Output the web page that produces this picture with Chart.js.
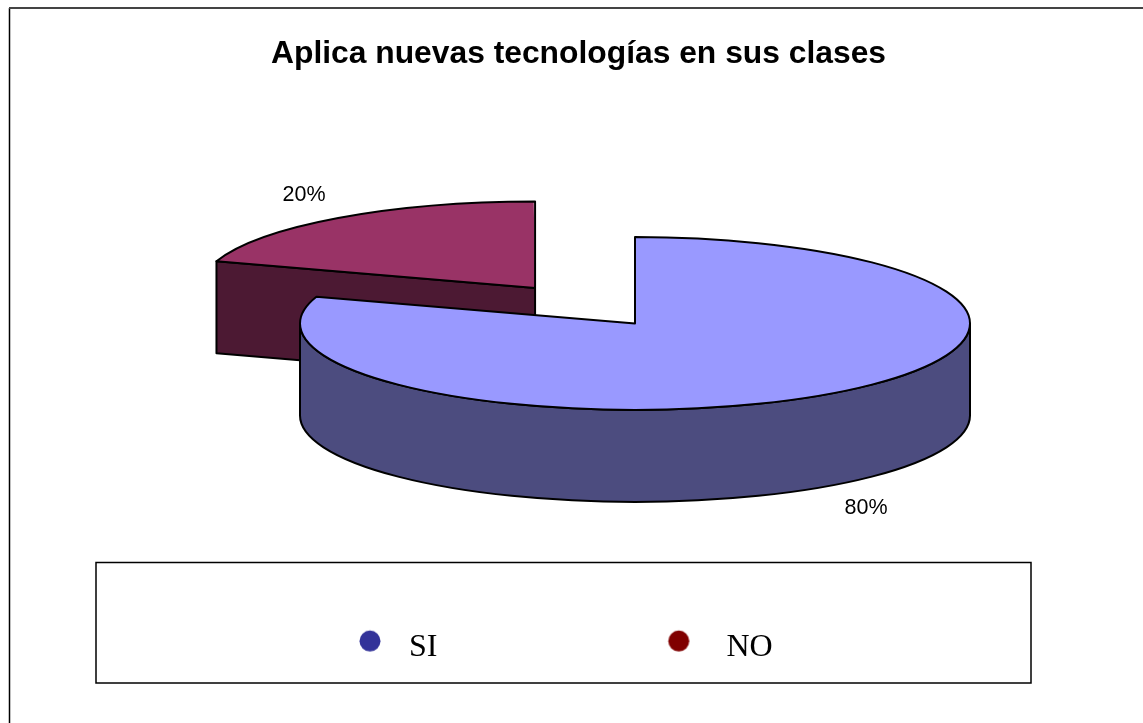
<!DOCTYPE html>
<html>
<head>
<meta charset="utf-8">
<title>Aplica nuevas tecnologías en sus clases</title>
<script src="https://cdn.jsdelivr.net/npm/chart.js@4"></script>
<style>
    html, body { margin: 0; padding: 0; background: #fff; }
    canvas { display: block; }
</style>
</head>
<body>
<canvas id="pie3d" width="1143" height="723"></canvas>
<script>
const categories = ['SI', 'NO'];
const percentages = [80, 20];
const percentLabels = ['80%', '20%'];
const topColors = ['#9999ff', '#993366'];
const sideColors = ['#4c4c7f', '#4c1933'];
const legendColors = ['#333399', '#800000'];
// circle shift inside the legend box, the original has uneven gaps
const legendDotShift = [[-7, -6.7], [-15.7, -6.7]];

const RADIUS = 335;
const SQUASH = 0.258;
const DEPTH = 92;
const CENTER_X = 635;
const CENTER_Y = 323.5;
const EXPLODE = 170;
const EDGE_WIDTH = 2;

// Arc.draw moves a slice by offset/4 and grows it a little, so work that out here
function sliceShift(arc) {
    const off = (arc.options.offset || 0) / 4;
    return { off: off, grow: off * (1 - Math.sin(Math.min(Math.PI, arc.circumference))) };
}

function sliceGeom(arc) {
    const mid = (arc.startAngle + arc.endAngle) / 2;
    const s = sliceShift(arc);
    return {
        mid: mid,
        r: arc.outerRadius + s.grow,
        x: arc.x + Math.cos(mid) * s.off,
        y: arc.y + Math.sin(mid) * s.off * SQUASH
    };
}

function dot(color, shift) {
    const c = document.createElement('canvas');
    c.width = 60;
    c.height = 60;
    const g = c.getContext('2d');
    g.fillStyle = color;
    g.beginPath();
    g.arc(30 + shift[0], 30 + shift[1], 10.5, 0, Math.PI * 2);
    g.fill();
    return c;
}

const framePlugin = {
    id: 'frame',
    beforeDraw(chart) {
        const ctx = chart.ctx;
        ctx.save();
        ctx.strokeStyle = '#000';
        ctx.lineWidth = 1.5;
        ctx.beginPath();
        ctx.moveTo(9.5, 723);
        ctx.lineTo(9.5, 8);
        ctx.stroke();
        ctx.strokeStyle = '#444';
        ctx.lineWidth = 2;
        ctx.beginPath();
        ctx.moveTo(9, 8);
        ctx.lineTo(1143, 8);
        ctx.stroke();
        ctx.strokeStyle = '#000';
        ctx.lineWidth = 1.5;
        ctx.strokeRect(96, 562.5, 935, 120.5);
        ctx.restore();
    }
};

const placePlugin = {
    id: 'place',
    afterLayout(chart) {
        // title, legend and pie do not share a centre in the original
        chart.titleBlock.left += 7;
        chart.titleBlock.right += 7;
        chart.titleBlock.top = 25;
        const legend = chart.legend;
        const p = legend.options.labels.padding;
        legend.left = 361 - p;
        legend.right = legend.left + legend.width;
        legend.top = 631.7 - p;
        // big enough that the slice offset does not collapse the fitted radius
        const area = chart.chartArea;
        area.left = CENTER_X - 500;
        area.right = CENTER_X + 500;
        area.top = CENTER_Y - 500;
        area.bottom = CENTER_Y + 500;
        area.width = 1000;
        area.height = 1000;
    },
    afterDatasetsUpdate(chart) {
        chart.getDatasetMeta(0).data.forEach(arc => {
            arc.outerRadius -= sliceShift(arc).grow;
        });
    }
};

const pie3dPlugin = {
    id: 'pie3d',
    beforeDatasetsDraw(chart) {
        const ctx = chart.ctx;
        const arcs = chart.getDatasetMeta(0).data;
        ctx.save();
        ctx.lineWidth = EDGE_WIDTH;
        ctx.strokeStyle = '#000';
        ctx.lineJoin = 'round';
        // back slice first so the big one covers it
        for (let i = arcs.length - 1; i >= 0; i--) {
            const arc = arcs[i];
            const g = sliceGeom(arc);
            const ry = g.r * SQUASH;
            ctx.fillStyle = sideColors[i];
            ctx.beginPath();
            if (arc.circumference > Math.PI) {
                ctx.ellipse(g.x, g.y, g.r, ry, 0, 0, Math.PI);
                ctx.lineTo(g.x - g.r, g.y + DEPTH);
                ctx.ellipse(g.x, g.y + DEPTH, g.r, ry, 0, Math.PI, 0, true);
            } else {
                const ex = g.x + Math.cos(arc.startAngle) * g.r;
                const ey = g.y + Math.sin(arc.startAngle) * ry;
                ctx.moveTo(ex, ey);
                ctx.lineTo(g.x, g.y);
                ctx.lineTo(g.x, g.y + DEPTH);
                ctx.lineTo(ex, ey + DEPTH);
            }
            ctx.closePath();
            ctx.fill();
            ctx.stroke();
        }
        ctx.restore();
    },
    beforeDatasetDraw(chart) {
        const ctx = chart.ctx;
        ctx.save();
        ctx.translate(0, CENTER_Y);
        ctx.scale(1, SQUASH);
        ctx.translate(0, -CENTER_Y);
    },
    afterDatasetDraw(chart) {
        chart.ctx.restore();
    },
    afterDatasetsDraw(chart) {
        const ctx = chart.ctx;
        const arcs = chart.getDatasetMeta(0).data;
        ctx.save();
        ctx.lineWidth = EDGE_WIDTH;
        ctx.strokeStyle = '#000';
        ctx.lineJoin = 'round';
        ctx.fillStyle = '#000';
        ctx.font = '21.5px "Liberation Sans"';
        ctx.textAlign = 'center';
        ctx.textBaseline = 'middle';
        arcs.forEach((arc, i) => {
            const g = sliceGeom(arc);
            // outline of the top face, scaled lines would come out too thin
            ctx.beginPath();
            ctx.moveTo(g.x, g.y);
            ctx.ellipse(g.x, g.y, g.r, g.r * SQUASH, 0, arc.startAngle, arc.endAngle);
            ctx.closePath();
            ctx.stroke();

            const down = Math.sin(g.mid) > 0;
            const lx = g.x + Math.cos(g.mid) * (g.r + 58);
            const ly = g.y + Math.sin(g.mid) * (g.r + 58) * SQUASH + (down ? DEPTH + 11 : -11);
            ctx.fillText(percentLabels[i], lx, ly);
        });
        ctx.restore();
    }
};

new Chart(document.getElementById('pie3d').getContext('2d'), {
    type: 'pie',
    data: {
        labels: categories,
        datasets: [{
            data: percentages,
            backgroundColor: topColors,
            borderWidth: 0,
            offset: [0, EXPLODE * 4],
            clip: false
        }]
    },
    options: {
        responsive: false,
        animation: false,
        radius: RADIUS,
        events: [],
        plugins: {
            tooltip: { enabled: false },
            title: {
                display: true,
                text: 'Aplica nuevas tecnologías en sus clases',
                color: '#000',
                font: { family: '"Liberation Sans"', size: 31.8, weight: 'bold' }
            },
            legend: {
                position: 'bottom',
                align: 'start',
                labels: {
                    color: '#000',
                    font: { family: '"Liberation Serif"', size: 32 },
                    usePointStyle: true,
                    padding: 241,
                    generateLabels(chart) {
                        return categories.map((name, i) => ({
                            text: name,
                            fillStyle: legendColors[i],
                            strokeStyle: legendColors[i],
                            lineWidth: 0,
                            pointStyle: dot(legendColors[i], legendDotShift[i]),
                            index: i
                        }));
                    }
                }
            }
        }
    },
    plugins: [framePlugin, placePlugin, pie3dPlugin]
});
</script>
</body>
</html>
